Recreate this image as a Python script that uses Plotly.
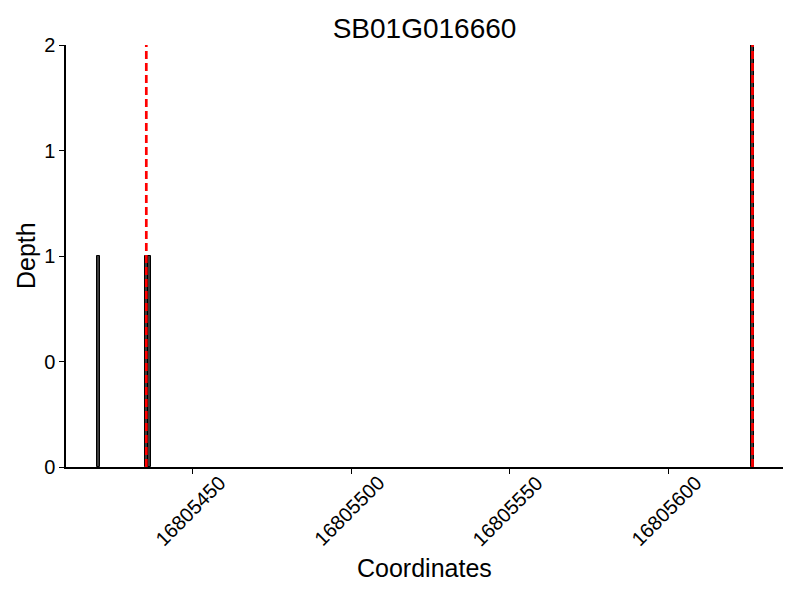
import plotly.graph_objects as go

bar_centers = [16805420.5, 16805435.5, 16805436.5, 16805626.5]
depths = [1, 1, 1, 2]
marker_positions = [16805435.5, 16805626.5]
y_tick_values = [0, 0.5, 1, 1.5, 2]
y_tick_labels = ["0", "0", "1", "1", "2"]
x_tick_values = [16805450, 16805500, 16805550, 16805600]
x_limits = [16805410.2, 16805636.1]
title_text = "SB01G016660"
x_label = "Coordinates"
y_label = "Depth"

fig = go.Figure()
fig.add_trace(go.Bar(
    x=bar_centers, y=depths, width=1,
    marker=dict(color="#3c3c3c", line=dict(color="black", width=1)),
    showlegend=False,
))
for mp in marker_positions:
    fig.add_trace(go.Scatter(
        x=[mp, mp], y=[0, 2], mode="lines",
        line=dict(color="red", width=2.7, dash="8px,4px"),
        showlegend=False, hoverinfo="skip",
    ))

annotations = [
    dict(text=x_label, xref="paper", yref="paper", x=0.5, y=0, yshift=-101,
         xanchor="center", yanchor="middle", showarrow=False, font=dict(size=25)),
    dict(text=y_label, xref="paper", yref="paper", x=0, y=0.5, xshift=-40,
         xanchor="center", yanchor="middle", textangle=-90, showarrow=False,
         font=dict(size=25)),
]
for tv in x_tick_values:
    annotations.append(dict(
        text=str(tv), xref="x", yref="paper", x=tv, y=0, xshift=-2, yshift=-44,
        xanchor="center", yanchor="middle", textangle=-45, showarrow=False,
        font=dict(size=20)))

fig.update_layout(
    width=800, height=600,
    margin=dict(l=66, r=17, t=45, b=133),
    plot_bgcolor="white", paper_bgcolor="white",
    font=dict(family="Liberation Sans, Arial, sans-serif", color="black"),
    title=dict(text=title_text, xref="paper", x=0.5, xanchor="center",
               y=1 - 28 / 600, yanchor="middle", font=dict(size=28), automargin=False),
    xaxis=dict(
        range=x_limits,
        tickvals=x_tick_values, showticklabels=False,
        ticks="outside", ticklen=5, tickcolor="black",
        showline=True, linecolor="black", linewidth=1.5, mirror=False,
        showgrid=False, zeroline=False, automargin=False,
    ),
    yaxis=dict(
        range=[0, 2], tickvals=y_tick_values, ticktext=y_tick_labels,
        ticks="outside", ticklen=5, tickcolor="black",
        showline=True, linecolor="black", linewidth=1.5,
        showgrid=False, zeroline=False, tickfont=dict(size=20), automargin=False,
    ),
    bargap=0,
    annotations=annotations,
)
fig.write_html("out.html", config={"displayModeBar": False},
               post_script="document.body.style.margin='0px';")
